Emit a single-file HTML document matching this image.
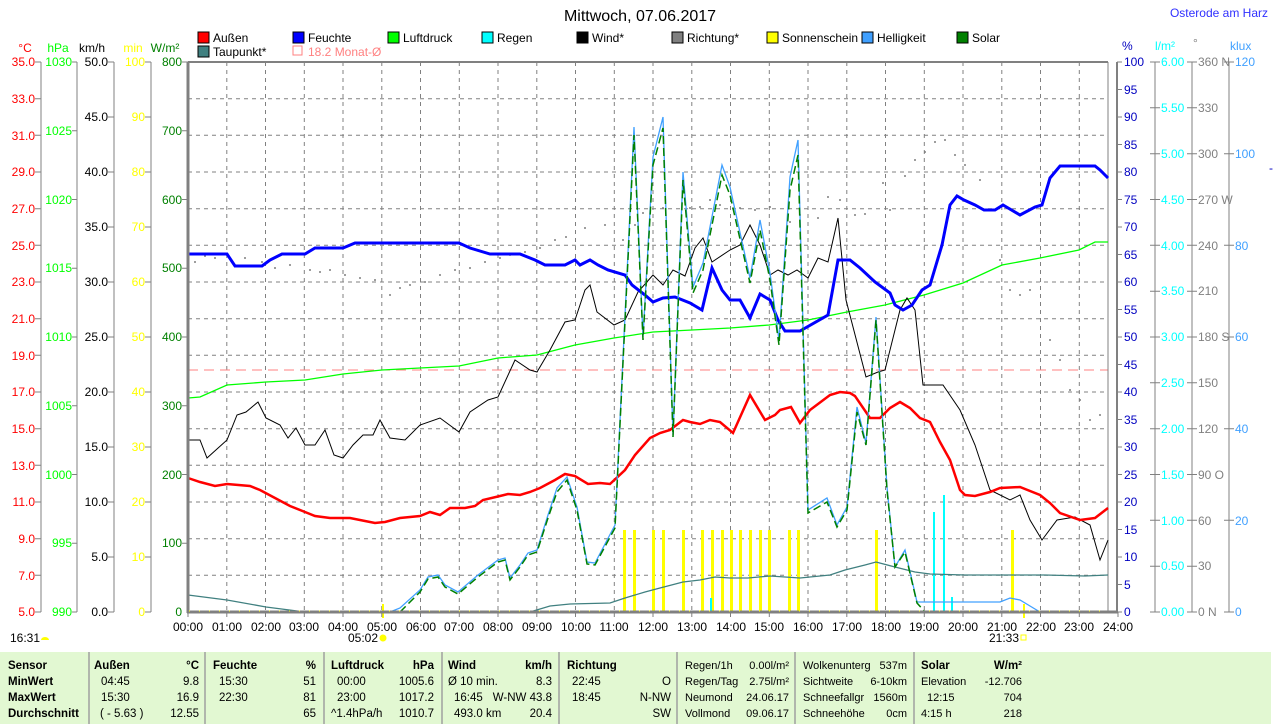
<!DOCTYPE html>
<html><head><meta charset="utf-8"><style>
html,body{margin:0;padding:0;background:#fff;}
svg{display:block;font-family:"Liberation Sans",sans-serif;}
</style></head><body>
<svg width="1274" height="724" viewBox="0 0 1274 724" xmlns="http://www.w3.org/2000/svg">
<rect width="1274" height="724" fill="#fff"/>
<text x="640" y="21" font-size="16" text-anchor="middle" fill="#000">Mittwoch, 07.06.2017</text>
<text x="1268" y="17" font-size="12" text-anchor="end" fill="#3030ff">Osterode am Harz</text>

<g font-size="12">
<rect x="198" y="32" width="11" height="11" fill="#f00" stroke="#000"/><text x="213" y="42">Außen</text>
<rect x="293" y="32" width="11" height="11" fill="#00f" stroke="#000"/><text x="308" y="42">Feuchte</text>
<rect x="388" y="32" width="11" height="11" fill="#0f0" stroke="#000"/><text x="403" y="42">Luftdruck</text>
<rect x="482" y="32" width="11" height="11" fill="#0ff" stroke="#000"/><text x="497" y="42">Regen</text>
<rect x="577" y="32" width="11" height="11" fill="#000" stroke="#000"/><text x="592" y="42">Wind*</text>
<rect x="672" y="32" width="11" height="11" fill="#808080" stroke="#000"/><text x="687" y="42">Richtung*</text>
<rect x="767" y="32" width="11" height="11" fill="#ff0" stroke="#000"/><text x="782" y="42">Sonnenschein</text>
<rect x="862" y="32" width="11" height="11" fill="#40a0ff" stroke="#000"/><text x="877" y="42">Helligkeit</text>
<rect x="957" y="32" width="11" height="11" fill="#008000" stroke="#000"/><text x="972" y="42">Solar</text>
<rect x="198" y="46" width="11" height="11" fill="#408080" stroke="#000"/><text x="213" y="56">Taupunkt*</text>
<rect x="293" y="46" width="9" height="9" fill="none" stroke="#ff8080"/><text x="308" y="56" fill="#ff8080">18.2 Monat-Ø</text>
</g>

<g stroke="#808080" stroke-dasharray="4,4" stroke-width="1">
<path d="M188 98.7H1108M188 135.3H1108M188 172H1108M188 208.7H1108M188 245.3H1108M188 282H1108M188 318.7H1108M188 355.3H1108M188 392H1108M188 428.7H1108M188 465.3H1108M188 502H1108M188 538.7H1108M188 575.3H1108"/>
<path d="M226.8 62V612M265.5 62V612M304.3 62V612M343 62V612M381.8 62V612M420.5 62V612M459.3 62V612M498 62V612M536.8 62V612M575.5 62V612M614.3 62V612M653 62V612M691.8 62V612M730.5 62V612M769.3 62V612M808 62V612M846.8 62V612M885.5 62V612M924.3 62V612M963 62V612M1001.8 62V612M1040.5 62V612M1079.3 62V612"/>
</g>
<line x1="188" y1="370" x2="1108" y2="370" stroke="#ff8080" stroke-dasharray="10,6"/>

<g font-size="12" stroke-width="1">
<text x="25" y="52" fill="#f00" text-anchor="middle">°C</text>
<text x="58" y="52" fill="#0f0" text-anchor="middle">hPa</text>
<text x="92" y="52" fill="#000" text-anchor="middle">km/h</text>
<text x="133" y="52" fill="#ff0" text-anchor="middle">min</text>
<text x="165" y="52" fill="#008000" text-anchor="middle">W/m²</text>
<line x1="41" y1="62" x2="41" y2="612" stroke="#808080"/>
<line x1="77" y1="62" x2="77" y2="612" stroke="#808080"/>
<line x1="114" y1="62" x2="114" y2="612" stroke="#808080"/>
<line x1="151" y1="62" x2="151" y2="612" stroke="#808080"/>
<g fill="#f00" text-anchor="end">
<text x="35" y="66">35.0</text><text x="35" y="103">33.0</text><text x="35" y="140">31.0</text><text x="35" y="176">29.0</text><text x="35" y="213">27.0</text><text x="35" y="250">25.0</text><text x="35" y="286">23.0</text><text x="35" y="323">21.0</text><text x="35" y="360">19.0</text><text x="35" y="396">17.0</text><text x="35" y="433">15.0</text><text x="35" y="470">13.0</text><text x="35" y="506">11.0</text><text x="35" y="543">9.0</text><text x="35" y="580">7.0</text><text x="35" y="616">5.0</text>
</g>
<path stroke="#808080" d="M35 62H41M35 98.7H41M35 135.3H41M35 172H41M35 208.7H41M35 245.3H41M35 282H41M35 318.7H41M35 355.3H41M35 392H41M35 428.7H41M35 465.3H41M35 502H41M35 538.7H41M35 575.3H41M35 612H41"/>
<g fill="#0f0" text-anchor="end">
<text x="72" y="66">1030</text><text x="72" y="135">1025</text><text x="72" y="204">1020</text><text x="72" y="272">1015</text><text x="72" y="341">1010</text><text x="72" y="410">1005</text><text x="72" y="479">1000</text><text x="72" y="547">995</text><text x="72" y="616">990</text>
</g>
<path stroke="#808080" d="M72 62H77M72 130.8H77M72 199.5H77M72 268.3H77M72 337H77M72 405.8H77M72 474.5H77M72 543.3H77M72 612H77"/>
<g fill="#000" text-anchor="end">
<text x="108" y="66">50.0</text><text x="108" y="121">45.0</text><text x="108" y="176">40.0</text><text x="108" y="231">35.0</text><text x="108" y="286">30.0</text><text x="108" y="341">25.0</text><text x="108" y="396">20.0</text><text x="108" y="451">15.0</text><text x="108" y="506">10.0</text><text x="108" y="561">5.0</text><text x="108" y="616">0.0</text>
</g>
<path stroke="#808080" d="M108 62H114M108 117H114M108 172H114M108 227H114M108 282H114M108 337H114M108 392H114M108 447H114M108 502H114M108 557H114M108 612H114"/>
<g fill="#ff0" text-anchor="end">
<text x="145" y="66">100</text><text x="145" y="121">90</text><text x="145" y="176">80</text><text x="145" y="231">70</text><text x="145" y="286">60</text><text x="145" y="341">50</text><text x="145" y="396">40</text><text x="145" y="451">30</text><text x="145" y="506">20</text><text x="145" y="561">10</text><text x="145" y="616">0</text>
</g>
<path stroke="#808080" d="M145 62H151M145 117H151M145 172H151M145 227H151M145 282H151M145 337H151M145 392H151M145 447H151M145 502H151M145 557H151M145 612H151"/>
<g fill="#008000" text-anchor="end">
<text x="182" y="66">800</text><text x="182" y="135">700</text><text x="182" y="204">600</text><text x="182" y="272">500</text><text x="182" y="341">400</text><text x="182" y="410">300</text><text x="182" y="479">200</text><text x="182" y="547">100</text><text x="182" y="616">0</text>
</g>
<path stroke="#808080" d="M182 62H188M182 130.8H188M182 199.5H188M182 268.3H188M182 337H188M182 405.8H188M182 474.5H188M182 543.3H188"/>
</g>

<g font-size="12">
<text x="1122" y="50" fill="#0000c0">%</text>
<text x="1155" y="50" fill="#0ff">l/m²</text>
<text x="1193" y="47" fill="#808080">°</text>
<text x="1230" y="50" fill="#40a0ff">klux</text>
<line x1="1108" y1="62" x2="1108" y2="612" stroke="#808080"/>
<line x1="1117" y1="62" x2="1117" y2="612" stroke="#808080" stroke-width="2"/>
<line x1="1155" y1="62" x2="1155" y2="612" stroke="#808080"/>
<line x1="1192" y1="62" x2="1192" y2="612" stroke="#808080"/>
<line x1="1229" y1="62" x2="1229" y2="612" stroke="#808080"/>
<g fill="#0000c0">
<text x="1124" y="66">100</text><text x="1124" y="94">95</text><text x="1124" y="121">90</text><text x="1124" y="149">85</text><text x="1124" y="176">80</text><text x="1124" y="204">75</text><text x="1124" y="231">70</text><text x="1124" y="259">65</text><text x="1124" y="286">60</text><text x="1124" y="314">55</text><text x="1124" y="341">50</text><text x="1124" y="369">45</text><text x="1124" y="396">40</text><text x="1124" y="424">35</text><text x="1124" y="451">30</text><text x="1124" y="479">25</text><text x="1124" y="506">20</text><text x="1124" y="534">15</text><text x="1124" y="561">10</text><text x="1124" y="589">5</text><text x="1124" y="616">0</text>
</g>
<path stroke="#808080" d="M1117 62H1122M1117 89.5H1122M1117 117H1122M1117 144.5H1122M1117 172H1122M1117 199.5H1122M1117 227H1122M1117 254.5H1122M1117 282H1122M1117 309.5H1122M1117 337H1122M1117 364.5H1122M1117 392H1122M1117 419.5H1122M1117 447H1122M1117 474.5H1122M1117 502H1122M1117 529.5H1122M1117 557H1122M1117 584.5H1122M1117 612H1122"/>
<g fill="#0ff">
<text x="1161" y="66">6.00</text><text x="1161" y="112">5.50</text><text x="1161" y="158">5.00</text><text x="1161" y="204">4.50</text><text x="1161" y="250">4.00</text><text x="1161" y="295">3.50</text><text x="1161" y="341">3.00</text><text x="1161" y="387">2.50</text><text x="1161" y="433">2.00</text><text x="1161" y="479">1.50</text><text x="1161" y="525">1.00</text><text x="1161" y="570">0.50</text><text x="1161" y="616">0.00</text>
</g>
<g fill="#808080">
<text x="1198" y="66">360 N</text><text x="1198" y="112">330</text><text x="1198" y="158">300</text><text x="1198" y="204">270 W</text><text x="1198" y="250">240</text><text x="1198" y="295">210</text><text x="1198" y="341">180 S</text><text x="1198" y="387">150</text><text x="1198" y="433">120</text><text x="1198" y="479">90  O</text><text x="1198" y="525">60</text><text x="1198" y="570">30</text><text x="1198" y="616">0   N</text>
</g>
<path stroke="#808080" d="M1150 62H1160M1150 107.8H1160M1150 153.7H1160M1150 199.5H1160M1150 245.3H1160M1150 291.2H1160M1150 337H1160M1150 382.8H1160M1150 428.7H1160M1150 474.5H1160M1150 520.3H1160M1150 566.2H1160M1150 612H1160M1187 62H1197M1187 107.8H1197M1187 153.7H1197M1187 199.5H1197M1187 245.3H1197M1187 291.2H1197M1187 337H1197M1187 382.8H1197M1187 428.7H1197M1187 474.5H1197M1187 520.3H1197M1187 566.2H1197M1187 612H1197M1224 62H1234M1224 153.7H1234M1224 245.3H1234M1224 337H1234M1224 428.7H1234M1224 520.3H1234M1224 612H1234"/>
<g fill="#40a0ff">
<text x="1235" y="66">120</text><text x="1235" y="158">100</text><text x="1235" y="250">80</text><text x="1235" y="341">60</text><text x="1235" y="433">40</text><text x="1235" y="525">20</text><text x="1235" y="616">0</text>
</g>
<text x="1269" y="172" fill="#0000c0">-</text>
</g>

<g fill="#ff0">
<rect x="623" y="530" width="3" height="82"/><rect x="633" y="530" width="3" height="82"/><rect x="652" y="530" width="3" height="82"/><rect x="662" y="530" width="3" height="82"/><rect x="682" y="530" width="3" height="82"/><rect x="701" y="530" width="3" height="82"/><rect x="711" y="530" width="3" height="82"/><rect x="721" y="530" width="3" height="82"/><rect x="730" y="530" width="3" height="82"/><rect x="739" y="530" width="3" height="82"/><rect x="749" y="530" width="3" height="82"/><rect x="759" y="530" width="3" height="82"/><rect x="768" y="530" width="3" height="82"/><rect x="788" y="530" width="3" height="82"/><rect x="797" y="530" width="3" height="82"/><rect x="875" y="530" width="3" height="82"/><rect x="1011" y="530" width="3" height="82"/>
<rect x="382" y="604" width="2" height="14"/><rect x="1023" y="604" width="2" height="14"/>
</g>
<g fill="#0ff">
<rect x="710" y="598" width="2" height="14"/><rect x="933" y="512" width="2" height="100"/><rect x="943" y="495" width="2" height="117"/><rect x="951" y="597" width="2" height="15"/>
</g>

<g fill="#808080">
<circle cx="195" cy="262" r="1"/><circle cx="205" cy="256" r="1"/><circle cx="215" cy="258" r="1"/><circle cx="232" cy="262" r="1"/><circle cx="245" cy="258" r="1"/><circle cx="262" cy="262" r="1"/><circle cx="275" cy="268" r="1"/><circle cx="290" cy="265" r="1"/><circle cx="310" cy="270" r="1"/><circle cx="320" cy="272" r="1"/><circle cx="330" cy="270" r="1"/><circle cx="345" cy="275" r="1"/><circle cx="360" cy="278" r="1"/><circle cx="375" cy="280" r="1"/><circle cx="390" cy="295" r="1"/><circle cx="400" cy="288" r="1"/><circle cx="410" cy="285" r="1"/><circle cx="425" cy="282" r="1"/><circle cx="440" cy="275" r="1"/><circle cx="455" cy="270" r="1"/><circle cx="470" cy="268" r="1"/><circle cx="485" cy="262" r="1"/><circle cx="500" cy="258" r="1"/><circle cx="510" cy="255" r="1"/><circle cx="525" cy="252" r="1"/><circle cx="540" cy="248" r="1"/><circle cx="555" cy="240" r="1"/><circle cx="566" cy="237" r="1"/><circle cx="585" cy="228" r="1"/><circle cx="605" cy="225" r="1"/><circle cx="623" cy="240" r="1"/><circle cx="635" cy="225" r="1"/><circle cx="643" cy="213" r="1"/><circle cx="663" cy="208" r="1"/><circle cx="690" cy="208" r="1"/><circle cx="700" cy="207" r="1"/><circle cx="710" cy="200" r="1"/><circle cx="720" cy="205" r="1"/><circle cx="740" cy="208" r="1"/><circle cx="755" cy="210" r="1"/><circle cx="770" cy="207" r="1"/><circle cx="790" cy="222" r="1"/><circle cx="800" cy="215" r="1"/><circle cx="818" cy="218" r="1"/><circle cx="828" cy="197" r="1"/><circle cx="840" cy="200" r="1"/><circle cx="855" cy="215" r="1"/><circle cx="865" cy="214" r="1"/><circle cx="883" cy="183" r="1"/><circle cx="890" cy="210" r="1"/><circle cx="905" cy="176" r="1"/><circle cx="915" cy="160" r="1"/><circle cx="925" cy="152" r="1"/><circle cx="935" cy="142" r="1"/><circle cx="945" cy="140" r="1"/><circle cx="955" cy="155" r="1"/><circle cx="965" cy="165" r="1"/><circle cx="980" cy="180" r="1"/><circle cx="1000" cy="260" r="1"/><circle cx="1010" cy="290" r="1"/><circle cx="1020" cy="295" r="1"/><circle cx="1030" cy="290" r="1"/><circle cx="1050" cy="340" r="1"/><circle cx="1060" cy="360" r="1"/><circle cx="1070" cy="390" r="1"/><circle cx="1080" cy="400" r="1"/><circle cx="1090" cy="420" r="1"/><circle cx="1100" cy="415" r="1"/>
</g>

<polyline fill="none" stroke="#408080" stroke-width="1.3" points="188,595 227,600 266,607 305,612 530,612 550,606 570,604 610,603 625,598 645,592 660,588 683,582 700,580 715,577 730,578 748,578 770,576 800,578 830,575 845,570 865,565 876,562 895,567 915,572 930,574 965,575 1005,575 1045,575 1085,576 1108,575"/>
<polyline fill="none" stroke="#0f0" stroke-width="1.3" points="188,398 200,397 227,385 266,382 305,380 343,374 382,370 420,368 459,366 498,358 537,355 575,345 614,338 653,332 692,330 730,328 769,325 808,320 847,312 885,305 924,295 963,283 1002,265 1040,258 1079,250 1095,242 1108,242"/>
<polyline fill="none" stroke="#000" stroke-width="1" points="188,440 200,440 207,458 227,440 237,415 246,412 258,402 266,418 280,425 288,438 296,428 305,445 315,445 325,430 334,455 343,458 353,445 363,435 373,435 380,420 390,438 405,440 420,425 440,418 459,432 470,412 488,400 498,397 515,360 530,370 537,372 550,350 565,322 575,320 585,290 590,285 597,312 614,325 625,320 638,292 653,275 663,285 673,270 685,276 695,248 703,238 712,262 730,250 740,245 750,225 760,245 770,275 778,270 788,275 797,270 808,278 818,258 828,262 838,218 846,300 866,377 878,372 885,370 900,310 907,298 915,310 923,385 943,385 960,410 975,445 990,490 1010,500 1020,495 1030,520 1042,540 1057,520 1075,517 1090,525 1100,560 1108,540"/>
<polyline fill="none" stroke="#00f" stroke-width="3" points="188,254 227,254 235,266 262,266 270,260 282,254 305,254 315,248 343,248 355,243 459,243 470,248 490,254 520,254 535,260 545,265 565,265 575,260 580,265 590,260 598,265 608,270 625,275 632,285 645,295 653,302 663,298 675,297 690,303 702,310 712,268 722,290 730,300 740,300 750,318 760,294 770,300 778,320 785,331 800,331 828,315 838,260 850,260 860,268 875,282 890,293 895,305 903,310 912,305 922,290 930,285 942,245 950,205 957,196 964,200 975,205 984,210 995,210 1003,205 1020,215 1035,207 1042,205 1050,178 1060,166 1095,166 1100,170 1108,178"/>
<polyline fill="none" stroke="#f00" stroke-width="2.5" points="188,478 200,482 215,486 227,484 250,486 260,490 275,498 290,506 305,512 315,516 330,518 350,518 365,521 375,523 385,522 400,518 420,516 430,512 440,515 450,508 465,508 475,506 483,500 500,496 508,494 520,495 530,492 540,488 555,480 565,474 575,476 588,484 600,483 610,484 625,470 635,455 650,438 660,433 670,430 683,420 690,422 700,424 710,420 720,422 733,433 750,395 765,420 775,415 780,410 791,407 800,423 810,410 830,395 840,392 850,393 855,396 870,418 880,418 890,408 900,402 910,408 920,418 930,422 940,442 950,460 960,490 965,495 975,496 990,492 1000,488 1020,487 1040,495 1050,503 1060,513 1080,520 1095,518 1108,508"/>
<polyline fill="none" stroke="#40a0ff" stroke-width="1.3" points="188,612 382,612 390,612 400,608 420,590 428,577 438,575 445,585 458,592 478,575 498,560 505,558 510,578 520,565 528,553 537,550 548,515 557,488 567,477 577,507 587,562 595,563 615,525 634,127 643,337 653,157 663,117 673,435 683,172 693,287 703,263 722,165 730,187 750,278 760,220 770,273 779,340 790,177 798,140 808,510 827,498 837,525 847,507 857,407 866,443 876,317 887,487 895,567 905,550 917,602 980,602 1000,602 1010,598 1020,600 1030,606 1040,612 1108,612"/>
<polyline fill="none" stroke="#008000" stroke-width="1.5" stroke-dasharray="8,4" points="400,612 420,592 428,579 438,577 445,587 458,594 478,577 498,562 505,560 510,580 520,567 528,555 537,552 548,518 557,492 567,480 577,510 587,564 595,565 615,528 634,135 643,340 653,165 663,128 673,437 683,180 693,293 703,270 722,175 730,195 750,283 760,230 770,280 779,345 790,190 798,155 808,513 827,502 837,527 847,510 857,412 866,445 876,320 887,490 895,567 905,552 917,603 925,612"/>

<line x1="188" y1="62" x2="1108" y2="62" stroke="#808080" stroke-width="2"/>
<line x1="188" y1="62" x2="188" y2="613" stroke="#808080" stroke-width="3"/>
<line x1="187" y1="612" x2="1118" y2="612" stroke="#808080" stroke-width="3"/>
<line x1="189" y1="611" x2="1108" y2="611" stroke="#ff0" stroke-width="1" stroke-dasharray="1,9"/>
<path stroke="#808080" d="M188 612V617M226.8 612V617M265.5 612V617M304.3 612V617M343 612V617M381.8 612V617M420.5 612V617M459.3 612V617M498 612V617M536.8 612V617M575.5 612V617M614.3 612V617M653 612V617M691.8 612V617M730.5 612V617M769.3 612V617M808 612V617M846.8 612V617M885.5 612V617M924.3 612V617M963 612V617M1001.8 612V617M1040.5 612V617M1079.3 612V617M1118 612V617"/>

<g font-size="12" text-anchor="middle" fill="#000">
<text x="188" y="631">00:00</text><text x="227" y="631">01:00</text><text x="266" y="631">02:00</text><text x="304" y="631">03:00</text><text x="343" y="631">04:00</text><text x="382" y="631">05:00</text><text x="421" y="631">06:00</text><text x="459" y="631">07:00</text><text x="498" y="631">08:00</text><text x="537" y="631">09:00</text><text x="576" y="631">10:00</text><text x="614" y="631">11:00</text><text x="653" y="631">12:00</text><text x="692" y="631">13:00</text><text x="731" y="631">14:00</text><text x="769" y="631">15:00</text><text x="808" y="631">16:00</text><text x="847" y="631">17:00</text><text x="886" y="631">18:00</text><text x="924" y="631">19:00</text><text x="963" y="631">20:00</text><text x="1002" y="631">21:00</text><text x="1041" y="631">22:00</text><text x="1079" y="631">23:00</text><text x="1118" y="631">24:00</text>
<text x="363" y="642">05:02</text><text x="1004" y="642">21:33</text>
</g>
<text x="10" y="642" font-size="12">16:31</text>
<path d="M41 640a4 3 0 0 1 8 0z" fill="#ff0"/>
<circle cx="383" cy="638" r="3.5" fill="#ff0"/>
<rect x="1021" y="635" width="5" height="5" fill="none" stroke="#ff0"/>

<rect x="0" y="652" width="1271" height="72" fill="#e2f8d2"/>
<g stroke="#a0a0a0" stroke-width="1.5">
<line x1="89" y1="652" x2="89" y2="724"/><line x1="205" y1="652" x2="205" y2="724"/><line x1="324" y1="652" x2="324" y2="724"/><line x1="442" y1="652" x2="442" y2="724"/><line x1="559" y1="652" x2="559" y2="724"/><line x1="677" y1="652" x2="677" y2="724"/><line x1="795" y1="652" x2="795" y2="724"/><line x1="914" y1="652" x2="914" y2="724"/>
</g>
<g font-size="11.5" fill="#000">
<g font-weight="bold">
<text x="8" y="669">Sensor</text><text x="8" y="685">MinWert</text><text x="8" y="701">MaxWert</text><text x="8" y="717">Durchschnitt</text>
<text x="94" y="669">Außen</text><text x="199" y="669" text-anchor="end">°C</text>
<text x="213" y="669">Feuchte</text><text x="316" y="669" text-anchor="end">%</text>
<text x="331" y="669">Luftdruck</text><text x="434" y="669" text-anchor="end">hPa</text>
<text x="448" y="669">Wind</text><text x="552" y="669" text-anchor="end">km/h</text>
<text x="567" y="669">Richtung</text>
<text x="921" y="669">Solar</text><text x="1022" y="669" text-anchor="end">W/m²</text>
</g>
<text x="101" y="685">04:45</text><text x="199" y="685" text-anchor="end">9.8</text>
<text x="101" y="701">15:30</text><text x="199" y="701" text-anchor="end">16.9</text>
<text x="100" y="717">( - 5.63 )</text><text x="199" y="717" text-anchor="end">12.55</text>
<text x="219" y="685">15:30</text><text x="316" y="685" text-anchor="end">51</text>
<text x="219" y="701">22:30</text><text x="316" y="701" text-anchor="end">81</text>
<text x="316" y="717" text-anchor="end">65</text>
<text x="337" y="685">00:00</text><text x="434" y="685" text-anchor="end">1005.6</text>
<text x="337" y="701">23:00</text><text x="434" y="701" text-anchor="end">1017.2</text>
<text x="331" y="717">^1.4hPa/h</text><text x="434" y="717" text-anchor="end">1010.7</text>
<text x="448" y="685">Ø 10 min.</text><text x="552" y="685" text-anchor="end">8.3</text>
<text x="454" y="701">16:45</text><text x="552" y="701" text-anchor="end">W-NW 43.8</text>
<text x="454" y="717">493.0 km</text><text x="552" y="717" text-anchor="end">20.4</text>
<text x="572" y="685">22:45</text><text x="572" y="701">18:45</text>
<text x="671" y="685" text-anchor="end">O</text><text x="671" y="701" text-anchor="end">N-NW</text><text x="671" y="717" text-anchor="end">SW</text>
</g>
<g font-size="11" fill="#000">
<text x="685" y="669">Regen/1h</text><text x="789" y="669" text-anchor="end">0.00l/m²</text>
<text x="685" y="685">Regen/Tag</text><text x="789" y="685" text-anchor="end">2.75l/m²</text>
<text x="685" y="701">Neumond</text><text x="789" y="701" text-anchor="end">24.06.17</text>
<text x="685" y="717">Vollmond</text><text x="789" y="717" text-anchor="end">09.06.17</text>
<text x="803" y="669">Wolkenunterg</text><text x="907" y="669" text-anchor="end">537m</text>
<text x="803" y="685">Sichtweite</text><text x="907" y="685" text-anchor="end">6-10km</text>
<text x="803" y="701">Schneefallgr</text><text x="907" y="701" text-anchor="end">1560m</text>
<text x="803" y="717">Schneehöhe</text><text x="907" y="717" text-anchor="end">0cm</text>
<text x="921" y="685">Elevation</text><text x="1022" y="685" text-anchor="end">-12.706</text>
<text x="927" y="701">12:15</text><text x="1022" y="701" text-anchor="end">704</text>
<text x="921" y="717">4:15 h</text><text x="1022" y="717" text-anchor="end">218</text>
</g>
</svg>
</body></html>
